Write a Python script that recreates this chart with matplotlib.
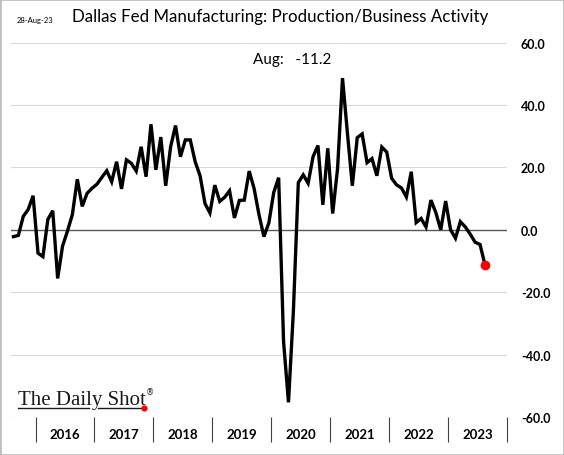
import numpy as np
import matplotlib
matplotlib.use("Agg")
import matplotlib.pyplot as plt
from matplotlib.patches import Rectangle

# Dallas Fed TMOS production index, monthly Aug-2015 .. Aug-2023
start_month = "Aug-2015"
production = [
    -2.2, -1.8, 4.3, 6.5, 10.9, -7.5, -8.6, 3.3, 6.1, -15.6,
    -5.2, -0.4, 4.9, 16.2, 7.5, 11.7, 13.3, 14.6, 16.8, 18.9,
    15.4, 21.8, 13.1, 22.4, 21.3, 18.8, 26.6, 17.0, 33.8, 19.2,
    29.7, 14.1, 26.6, 33.4, 23.4, 28.8, 28.8, 21.8, 17.3, 8.4,
    5.4, 14.3, 9.1, 10.4, 12.5, 3.8, 9.4, 9.5, 18.8, 13.2,
    4.8, -2.2, 2.2, 12.0, 16.7, -35.9, -55.3, -26.0, 15.1, 17.6,
    14.9, 23.4, 27.0, 8.0, 26.1, 5.2, 19.7, 48.6, 31.0, 14.1,
    29.5, 30.7, 21.5, 22.8, 17.3, 26.5, 24.9, 16.5, 14.4, 13.4,
    10.5, 18.6, 2.3, 3.6, 0.9, 9.5, 5.5, 0.0, 9.2, 0.0,
    -2.7, 2.6, 0.9, -1.4, -4.0, -4.7, -11.2,
]
years = ["2016", "2017", "2018", "2019", "2020", "2021", "2022", "2023"]
first_jan = 5  # index of Jan-2016
yticks = [-60, -40, -20, 0, 20, 40, 60]

title = "Dallas Fed Manufacturing: Production/Business Activity"
date_txt = "28-Aug-23"
last_txt = "Aug:   -11.2"

x = np.arange(len(production))

fig = plt.figure(figsize=(5.64, 4.56), dpi=100)
ax = fig.add_axes([0.0195, 0.0833, 0.8795, 0.8213])

for v in yticks:
    if v == 0:
        ax.axhline(v, color="#595959", lw=1.0, zorder=1)
    else:
        ax.axhline(v, color="#d9d9d9", lw=0.8, zorder=0)

ax.plot(x, production, color="black", lw=2.4, solid_joinstyle="miter", zorder=3)
ax.plot(x[-1], production[-1], "o", color="#ff0000", ms=6, zorder=4)

ax.set_xlim(-0.5, len(production) + 3.5)
ax.set_ylim(-60, 60)

for s in ax.spines.values():
    s.set_visible(False)

# year separators as major ticks, year names as minor ticks
seps = [first_jan - 0.5 + 12 * i for i in range(len(years) + 1)]
centers = [first_jan + 5.5 + 12 * i for i in range(len(years))]
ax.set_xticks(seps)
ax.set_xticklabels([""] * len(seps))
ax.tick_params(axis="x", which="major", length=18, width=0.8, color="#404040", direction="out")
ax.set_xticks(centers, minor=True)
ax.set_xticklabels(years, minor=True, fontsize=9.5, fontweight="bold", family="Lato")
ax.tick_params(axis="x", which="minor", length=0, pad=8)

ax.yaxis.tick_right()
ax.set_yticks(yticks)
ax.set_yticklabels(["%.1f" % v for v in yticks], fontsize=9, fontweight="bold", family="Lato")
ax.tick_params(axis="y", length=0, pad=10)

fig.text(0.497, 0.962, title, ha="center", va="center", fontsize=12.2, family="Lato")
fig.text(0.03, 0.955, date_txt, ha="left", va="center", fontsize=5.5, family="Lato")
fig.text(0.518, 0.868, last_txt, ha="center", va="center", fontsize=11, family="Lato",
         bbox=dict(facecolor="white", edgecolor="none", pad=6))

# logo
fig.text(0.032, 0.112, "The Daily Shot", ha="left", va="baseline", fontsize=15,
         family="Liberation Serif", color="#1a1a1a")
fig.text(0.258, 0.134, "®", ha="left", va="baseline", fontsize=6, family="DejaVu Sans", color="#1a1a1a")
fig.add_artist(plt.Line2D([0.032, 0.158], [0.103, 0.103], color="#1a1a1a", lw=1.0))
fig.add_artist(plt.Line2D([0.174, 0.254], [0.103, 0.103], color="#1a1a1a", lw=1.0))
fig.add_artist(plt.Line2D([0.256], [0.103], marker="o", color="#ff0000", ms=3.5))

fig.add_artist(Rectangle((0, 0), 1, 1, transform=fig.transFigure, fill=False,
                         edgecolor="#bfbfbf", lw=2))

fig.savefig("out.png", dpi=100)
